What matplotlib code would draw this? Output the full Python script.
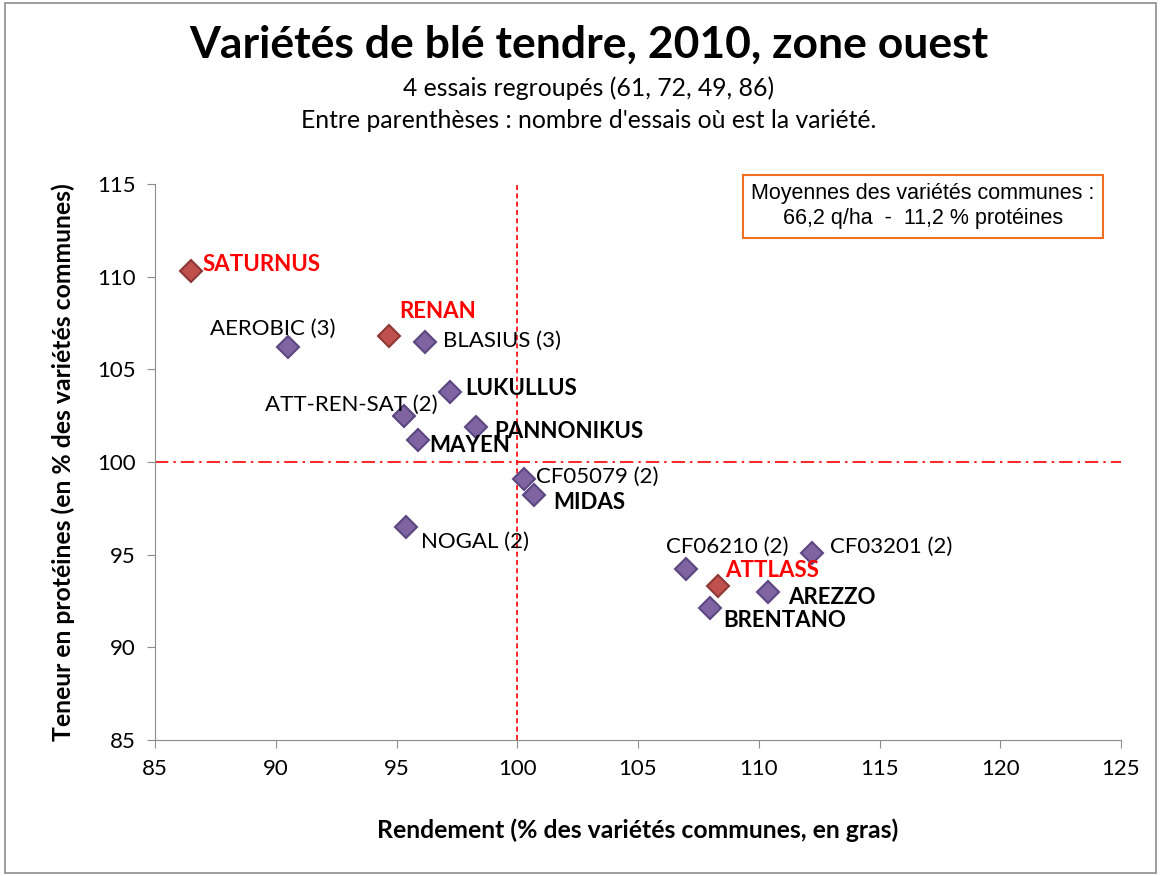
import matplotlib
matplotlib.use("Agg")
import matplotlib.pyplot as plt
from matplotlib.patches import Rectangle

plt.rcParams['font.family'] = ['Lato', 'DejaVu Sans']

# data
names = ['SATURNUS', 'AEROBIC (3)', 'RENAN', 'BLASIUS (3)', 'LUKULLUS', 'ATT-REN-SAT (2)',
         'MAYEN', 'PANNONIKUS', 'CF05079 (2)', 'MIDAS', 'NOGAL (2)', 'CF06210 (2)',
         'ATTLASS', 'BRENTANO', 'AREZZO', 'CF03201 (2)']
rendement = [86.5, 90.5, 94.7, 96.2, 97.2, 95.3, 95.9, 98.3, 100.3, 100.7, 95.4, 107.0,
             108.3, 108.0, 110.4, 112.2]
proteines = [110.3, 106.2, 106.8, 106.5, 103.8, 102.5, 101.2, 101.9, 99.1, 98.2, 96.5, 94.2,
             93.3, 92.1, 93.0, 95.1]
temoin = [True, False, True, False, False, False, False, False, False, False, False, False,
          True, False, False, False]
gras = [True, False, True, False, True, False, True, True, False, True, False, False,
        True, True, True, False]
# label offsets in pixels (dx, dy, ha)
offsets = [(11, 7, 'left'), (48, 18, 'right'), (10, 24, 'left'), (18, 1, 'left'),
           (16, 3, 'left'), (34, 11, 'right'), (11, -6, 'left'), (18, -5, 'left'),
           (12, 2, 'left'), (19, -7, 'left'), (15, -15, 'left'), (-20, 23, 'left'),
           (7, 16, 'left'), (13, -12, 'left'), (20, -6, 'left'), (18, 6, 'left')]

fig = plt.figure(figsize=(11.61, 8.76), dpi=100)
fig.patches.append(Rectangle((0.004, 0.003), 0.992, 0.994, transform=fig.transFigure,
                             fill=False, edgecolor='#8c8c8c', linewidth=1.2))
ax = fig.add_axes([155 / 1161, 1 - 740 / 876, (1121 - 155) / 1161, (740 - 184) / 876])

ax.set_xlim(85, 125)
ax.set_ylim(85, 115)
ax.set_xticks(range(85, 126, 5))
ax.set_yticks(range(85, 116, 5))
ax.tick_params(labelsize=16, length=6, color='#8c8c8c', direction='out', pad=8)
for s in ['top', 'right']:
    ax.spines[s].set_visible(False)
for s in ['left', 'bottom']:
    ax.spines[s].set_color('#8c8c8c')

ax.axvline(100, color='red', linestyle=(0, (3, 2)), linewidth=1.2, zorder=1)
ax.axhline(100, color='red', linestyle=(0, (8, 3, 1.5, 3)), linewidth=1.2, zorder=1)

for x, y, n, t, b, (dx, dy, ha) in zip(rendement, proteines, names, temoin, gras, offsets):
    fc = '#c0504d' if t else '#8064a2'
    ec = '#8c3836' if t else '#5c4680'
    ax.plot(x, y, marker='D', markersize=11, markerfacecolor=fc, markeredgecolor=ec,
            markeredgewidth=1.5, zorder=3)
    ax.annotate(n, (x, y), xytext=(dx * 0.72, dy * 0.72), textcoords='offset points',
                ha=ha, va='center', fontsize=16, color='red' if t else 'black',
                fontweight='bold' if b else 'normal', zorder=4)

ax.set_xlabel('Rendement (% des variétés communes, en gras)', fontsize=17.8,
              fontweight='bold', labelpad=28)
ax.set_ylabel('Teneur en protéines (en % des variétés communes)', fontsize=17.8,
              fontweight='bold', labelpad=16)

fig.text(0.507, 0.949, 'Variétés de blé tendre, 2010, zone ouest', ha='center', va='center',
         fontsize=32, fontweight='bold')
fig.text(0.507, 0.899, '4 essais regroupés (61, 72, 49, 86)', ha='center', va='center',
         fontsize=17.8)
fig.text(0.507, 0.863, "Entre parenthèses : nombre d'essais où est la variété.", ha='center',
         va='center', fontsize=17.8)

ax.text(0.795, 0.960, 'Moyennes des variétés communes :\n66,2 q/ha  -  11,2 % protéines',
        transform=ax.transAxes, ha='center', va='center', fontsize=15.5,
        family=['Liberation Sans', 'DejaVu Sans'], linespacing=1.25,
        bbox=dict(boxstyle='square,pad=0.4', facecolor='white', edgecolor='#f07020',
                  linewidth=1.5))

fig.savefig('out.png', dpi=100)
